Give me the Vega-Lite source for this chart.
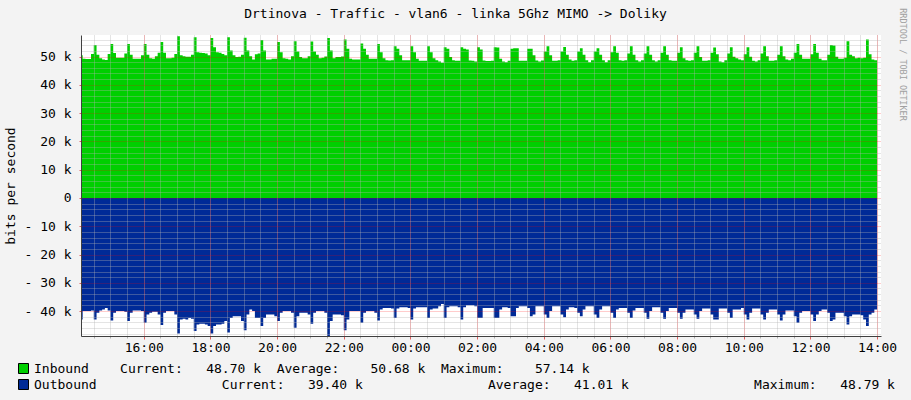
{
"$schema": "https://vega.github.io/schema/vega-lite/v6.json",
"width": 800, "height": 301,
"autosize": {"type": "none"},
"padding": {"left": 81, "top": 35, "right": 30, "bottom": 64},
"background": "#f3f3f3",
"config": {"view": {"fill": "#ffffff", "stroke": null}, "font": "DejaVu Sans Mono"},
"title": {"text": "Drtinova - Traffic - vlan6 - linka 5Ghz MIMO -> Doliky", "font": "DejaVu Sans Mono", "fontSize": 13, "fontWeight": "normal", "color": "#000000", "anchor": "middle", "frame": "group", "dx": -25.5, "offset": -13},
"data": {"values": [
{"t":"2024-01-01T14:05","in":50.4,"out":-43.0},
{"t":"2024-01-01T14:10","in":50.4,"out":-43.0},
{"t":"2024-01-01T14:15","in":49.2,"out":-40.0},
{"t":"2024-01-01T14:20","in":49.1,"out":-40.0},
{"t":"2024-01-01T14:25","in":49.1,"out":-40.0},
{"t":"2024-01-01T14:30","in":50.9,"out":-39.8},
{"t":"2024-01-01T14:35","in":54.1,"out":-43.0},
{"t":"2024-01-01T14:40","in":50.6,"out":-40.6},
{"t":"2024-01-01T14:45","in":49.4,"out":-39.8},
{"t":"2024-01-01T14:50","in":48.9,"out":-39.4},
{"t":"2024-01-01T14:55","in":48.8,"out":-38.9},
{"t":"2024-01-01T15:00","in":50.9,"out":-39.8},
{"t":"2024-01-01T15:05","in":54.4,"out":-43.3},
{"t":"2024-01-01T15:10","in":51.2,"out":-40.6},
{"t":"2024-01-01T15:15","in":49.6,"out":-40.0},
{"t":"2024-01-01T15:20","in":49.6,"out":-40.0},
{"t":"2024-01-01T15:25","in":49.6,"out":-40.0},
{"t":"2024-01-01T15:30","in":51.1,"out":-40.2},
{"t":"2024-01-01T15:35","in":54.4,"out":-43.5},
{"t":"2024-01-01T15:40","in":50.6,"out":-40.6},
{"t":"2024-01-01T15:45","in":49.2,"out":-39.8},
{"t":"2024-01-01T15:50","in":49.2,"out":-39.8},
{"t":"2024-01-01T15:55","in":49.2,"out":-39.8},
{"t":"2024-01-01T16:00","in":50.4,"out":-40.0},
{"t":"2024-01-01T16:05","in":54.4,"out":-44.1},
{"t":"2024-01-01T16:10","in":50.6,"out":-41.2},
{"t":"2024-01-01T16:15","in":49.4,"out":-40.6},
{"t":"2024-01-01T16:20","in":49.2,"out":-40.2},
{"t":"2024-01-01T16:25","in":50.1,"out":-40.2},
{"t":"2024-01-01T16:30","in":51.3,"out":-41.2},
{"t":"2024-01-01T16:35","in":55.1,"out":-44.9},
{"t":"2024-01-01T16:40","in":51.3,"out":-40.6},
{"t":"2024-01-01T16:45","in":49.4,"out":-40.0},
{"t":"2024-01-01T16:50","in":49.4,"out":-40.0},
{"t":"2024-01-01T16:55","in":49.6,"out":-40.0},
{"t":"2024-01-01T17:00","in":50.9,"out":-41.2},
{"t":"2024-01-01T17:05","in":57.14,"out":-47.9},
{"t":"2024-01-01T17:10","in":50.4,"out":-43.0},
{"t":"2024-01-01T17:15","in":50.1,"out":-42.7},
{"t":"2024-01-01T17:20","in":49.9,"out":-43.0},
{"t":"2024-01-01T17:25","in":49.9,"out":-42.4},
{"t":"2024-01-01T17:30","in":50.6,"out":-42.7},
{"t":"2024-01-01T17:35","in":56.8,"out":-47.0},
{"t":"2024-01-01T17:40","in":51.5,"out":-44.7},
{"t":"2024-01-01T17:45","in":51.3,"out":-44.5},
{"t":"2024-01-01T17:50","in":51.2,"out":-44.5},
{"t":"2024-01-01T17:55","in":51.1,"out":-44.7},
{"t":"2024-01-01T18:00","in":50.4,"out":-45.3},
{"t":"2024-01-01T18:05","in":56.5,"out":-47.9},
{"t":"2024-01-01T18:10","in":53.3,"out":-45.3},
{"t":"2024-01-01T18:15","in":51.5,"out":-44.7},
{"t":"2024-01-01T18:20","in":51.3,"out":-44.7},
{"t":"2024-01-01T18:25","in":50.9,"out":-44.5},
{"t":"2024-01-01T18:30","in":50.4,"out":-43.5},
{"t":"2024-01-01T18:35","in":56.8,"out":-47.6},
{"t":"2024-01-01T18:40","in":52.1,"out":-42.4},
{"t":"2024-01-01T18:45","in":50.4,"out":-41.8},
{"t":"2024-01-01T18:50","in":49.8,"out":-41.8},
{"t":"2024-01-01T18:55","in":49.9,"out":-41.8},
{"t":"2024-01-01T19:00","in":50.6,"out":-43.5},
{"t":"2024-01-01T19:05","in":56.6,"out":-46.8},
{"t":"2024-01-01T19:10","in":52.1,"out":-41.2},
{"t":"2024-01-01T19:15","in":50.1,"out":-39.4},
{"t":"2024-01-01T19:20","in":48.9,"out":-40.0},
{"t":"2024-01-01T19:25","in":50.8,"out":-42.4},
{"t":"2024-01-01T19:30","in":51.1,"out":-42.4},
{"t":"2024-01-01T19:35","in":55.8,"out":-45.3},
{"t":"2024-01-01T19:40","in":52.1,"out":-42.4},
{"t":"2024-01-01T19:45","in":48.9,"out":-41.2},
{"t":"2024-01-01T19:50","in":48.9,"out":-41.2},
{"t":"2024-01-01T19:55","in":49.2,"out":-41.2},
{"t":"2024-01-01T20:00","in":49.2,"out":-41.8},
{"t":"2024-01-01T20:05","in":55.1,"out":-43.5},
{"t":"2024-01-01T20:10","in":51.5,"out":-40.6},
{"t":"2024-01-01T20:15","in":49.4,"out":-40.0},
{"t":"2024-01-01T20:20","in":49.2,"out":-40.0},
{"t":"2024-01-01T20:25","in":48.9,"out":-40.0},
{"t":"2024-01-01T20:30","in":50.1,"out":-40.6},
{"t":"2024-01-01T20:35","in":55.4,"out":-45.9},
{"t":"2024-01-01T20:40","in":51.8,"out":-41.8},
{"t":"2024-01-01T20:45","in":49.8,"out":-40.6},
{"t":"2024-01-01T20:50","in":49.4,"out":-40.6},
{"t":"2024-01-01T20:55","in":49.4,"out":-40.6},
{"t":"2024-01-01T21:00","in":50.1,"out":-41.2},
{"t":"2024-01-01T21:05","in":55.3,"out":-44.5},
{"t":"2024-01-01T21:10","in":51.8,"out":-40.6},
{"t":"2024-01-01T21:15","in":50.6,"out":-40.0},
{"t":"2024-01-01T21:20","in":49.4,"out":-40.0},
{"t":"2024-01-01T21:25","in":49.6,"out":-40.0},
{"t":"2024-01-01T21:30","in":50.0,"out":-40.6},
{"t":"2024-01-01T21:35","in":56.5,"out":-48.79},
{"t":"2024-01-01T21:40","in":52.1,"out":-43.5},
{"t":"2024-01-01T21:45","in":49.4,"out":-41.2},
{"t":"2024-01-01T21:50","in":49.8,"out":-41.2},
{"t":"2024-01-01T21:55","in":49.8,"out":-41.2},
{"t":"2024-01-01T22:00","in":50.0,"out":-41.5},
{"t":"2024-01-01T22:05","in":56.0,"out":-46.8},
{"t":"2024-01-01T22:10","in":52.7,"out":-43.0},
{"t":"2024-01-01T22:15","in":49.2,"out":-40.0},
{"t":"2024-01-01T22:20","in":48.9,"out":-40.0},
{"t":"2024-01-01T22:25","in":48.9,"out":-40.0},
{"t":"2024-01-01T22:30","in":48.9,"out":-40.0},
{"t":"2024-01-01T22:35","in":54.6,"out":-44.1},
{"t":"2024-01-01T22:40","in":52.7,"out":-40.6},
{"t":"2024-01-01T22:45","in":50.6,"out":-40.0},
{"t":"2024-01-01T22:50","in":49.2,"out":-40.0},
{"t":"2024-01-01T22:55","in":49.2,"out":-40.0},
{"t":"2024-01-01T23:00","in":49.2,"out":-40.6},
{"t":"2024-01-01T23:05","in":54.4,"out":-43.3},
{"t":"2024-01-01T23:10","in":51.5,"out":-39.4},
{"t":"2024-01-01T23:15","in":49.4,"out":-38.9},
{"t":"2024-01-01T23:20","in":48.7,"out":-38.9},
{"t":"2024-01-01T23:25","in":48.6,"out":-38.9},
{"t":"2024-01-01T23:30","in":48.7,"out":-39.1},
{"t":"2024-01-01T23:35","in":53.6,"out":-42.4},
{"t":"2024-01-01T23:40","in":52.7,"out":-39.1},
{"t":"2024-01-01T23:45","in":50.4,"out":-38.6},
{"t":"2024-01-01T23:50","in":48.7,"out":-38.6},
{"t":"2024-01-01T23:55","in":48.7,"out":-38.6},
{"t":"2024-01-02T00:00","in":48.7,"out":-38.9},
{"t":"2024-01-02T00:05","in":53.6,"out":-43.0},
{"t":"2024-01-02T00:10","in":51.5,"out":-39.1},
{"t":"2024-01-02T00:15","in":49.2,"out":-38.6},
{"t":"2024-01-02T00:20","in":48.5,"out":-38.6},
{"t":"2024-01-02T00:25","in":48.5,"out":-38.6},
{"t":"2024-01-02T00:30","in":48.5,"out":-38.6},
{"t":"2024-01-02T00:35","in":53.6,"out":-42.4},
{"t":"2024-01-02T00:40","in":51.5,"out":-39.4},
{"t":"2024-01-02T00:45","in":49.4,"out":-39.1},
{"t":"2024-01-02T00:50","in":48.7,"out":-39.1},
{"t":"2024-01-02T00:55","in":48.2,"out":-38.3},
{"t":"2024-01-02T01:00","in":47.8,"out":-37.5},
{"t":"2024-01-02T01:05","in":53.3,"out":-42.4},
{"t":"2024-01-02T01:10","in":52.7,"out":-38.6},
{"t":"2024-01-02T01:15","in":49.8,"out":-38.3},
{"t":"2024-01-02T01:20","in":48.7,"out":-38.3},
{"t":"2024-01-02T01:25","in":48.5,"out":-38.3},
{"t":"2024-01-02T01:30","in":48.5,"out":-38.6},
{"t":"2024-01-02T01:35","in":53.3,"out":-43.0},
{"t":"2024-01-02T01:40","in":52.7,"out":-38.6},
{"t":"2024-01-02T01:45","in":52.5,"out":-37.9},
{"t":"2024-01-02T01:50","in":48.6,"out":-37.9},
{"t":"2024-01-02T01:55","in":48.5,"out":-37.9},
{"t":"2024-01-02T02:00","in":48.2,"out":-38.3},
{"t":"2024-01-02T02:05","in":53.3,"out":-42.4},
{"t":"2024-01-02T02:10","in":52.5,"out":-42.4},
{"t":"2024-01-02T02:15","in":48.6,"out":-38.9},
{"t":"2024-01-02T02:20","in":48.4,"out":-38.9},
{"t":"2024-01-02T02:25","in":48.4,"out":-38.9},
{"t":"2024-01-02T02:30","in":48.5,"out":-38.9},
{"t":"2024-01-02T02:35","in":53.3,"out":-42.4},
{"t":"2024-01-02T02:40","in":53.2,"out":-42.4},
{"t":"2024-01-02T02:45","in":49.2,"out":-39.4},
{"t":"2024-01-02T02:50","in":48.2,"out":-38.6},
{"t":"2024-01-02T02:55","in":48.0,"out":-38.6},
{"t":"2024-01-02T03:00","in":48.5,"out":-38.9},
{"t":"2024-01-02T03:05","in":52.7,"out":-41.8},
{"t":"2024-01-02T03:10","in":52.9,"out":-41.8},
{"t":"2024-01-02T03:15","in":52.9,"out":-38.9},
{"t":"2024-01-02T03:20","in":48.5,"out":-38.3},
{"t":"2024-01-02T03:25","in":48.5,"out":-38.3},
{"t":"2024-01-02T03:30","in":48.5,"out":-38.3},
{"t":"2024-01-02T03:35","in":52.7,"out":-38.9},
{"t":"2024-01-02T03:40","in":52.7,"out":-41.8},
{"t":"2024-01-02T03:45","in":50.4,"out":-41.2},
{"t":"2024-01-02T03:50","in":48.6,"out":-38.3},
{"t":"2024-01-02T03:55","in":48.2,"out":-38.3},
{"t":"2024-01-02T04:00","in":48.6,"out":-38.3},
{"t":"2024-01-02T04:05","in":51.8,"out":-41.2},
{"t":"2024-01-02T04:10","in":53.6,"out":-42.4},
{"t":"2024-01-02T04:15","in":50.4,"out":-40.0},
{"t":"2024-01-02T04:20","in":48.5,"out":-38.3},
{"t":"2024-01-02T04:25","in":48.5,"out":-38.3},
{"t":"2024-01-02T04:30","in":48.7,"out":-38.3},
{"t":"2024-01-02T04:35","in":51.8,"out":-41.2},
{"t":"2024-01-02T04:40","in":53.4,"out":-42.2},
{"t":"2024-01-02T04:45","in":50.6,"out":-39.4},
{"t":"2024-01-02T04:50","in":48.9,"out":-38.6},
{"t":"2024-01-02T04:55","in":48.5,"out":-38.6},
{"t":"2024-01-02T05:00","in":48.7,"out":-38.9},
{"t":"2024-01-02T05:05","in":51.8,"out":-40.6},
{"t":"2024-01-02T05:10","in":52.9,"out":-41.8},
{"t":"2024-01-02T05:15","in":50.6,"out":-39.4},
{"t":"2024-01-02T05:20","in":48.7,"out":-38.3},
{"t":"2024-01-02T05:25","in":48.0,"out":-38.3},
{"t":"2024-01-02T05:30","in":48.7,"out":-38.3},
{"t":"2024-01-02T05:35","in":51.8,"out":-41.2},
{"t":"2024-01-02T05:40","in":52.9,"out":-42.4},
{"t":"2024-01-02T05:45","in":50.6,"out":-39.4},
{"t":"2024-01-02T05:50","in":48.7,"out":-38.3},
{"t":"2024-01-02T05:55","in":48.0,"out":-38.3},
{"t":"2024-01-02T06:00","in":48.7,"out":-38.3},
{"t":"2024-01-02T06:05","in":51.5,"out":-40.6},
{"t":"2024-01-02T06:10","in":53.6,"out":-42.4},
{"t":"2024-01-02T06:15","in":51.3,"out":-39.4},
{"t":"2024-01-02T06:20","in":48.7,"out":-38.9},
{"t":"2024-01-02T06:25","in":48.5,"out":-38.9},
{"t":"2024-01-02T06:30","in":48.7,"out":-38.9},
{"t":"2024-01-02T06:35","in":51.1,"out":-40.6},
{"t":"2024-01-02T06:40","in":53.6,"out":-42.4},
{"t":"2024-01-02T06:45","in":50.6,"out":-39.8},
{"t":"2024-01-02T06:50","in":48.7,"out":-38.9},
{"t":"2024-01-02T06:55","in":48.2,"out":-38.9},
{"t":"2024-01-02T07:00","in":48.7,"out":-38.9},
{"t":"2024-01-02T07:05","in":51.1,"out":-40.6},
{"t":"2024-01-02T07:10","in":53.6,"out":-42.7},
{"t":"2024-01-02T07:15","in":50.6,"out":-40.0},
{"t":"2024-01-02T07:20","in":48.7,"out":-38.6},
{"t":"2024-01-02T07:25","in":48.2,"out":-38.6},
{"t":"2024-01-02T07:30","in":48.7,"out":-38.6},
{"t":"2024-01-02T07:35","in":51.3,"out":-40.6},
{"t":"2024-01-02T07:40","in":53.6,"out":-42.7},
{"t":"2024-01-02T07:45","in":50.6,"out":-40.0},
{"t":"2024-01-02T07:50","in":48.7,"out":-38.9},
{"t":"2024-01-02T07:55","in":48.5,"out":-38.9},
{"t":"2024-01-02T08:00","in":48.5,"out":-38.9},
{"t":"2024-01-02T08:05","in":51.3,"out":-40.6},
{"t":"2024-01-02T08:10","in":53.3,"out":-42.7},
{"t":"2024-01-02T08:15","in":49.4,"out":-40.6},
{"t":"2024-01-02T08:20","in":48.7,"out":-39.4},
{"t":"2024-01-02T08:25","in":48.5,"out":-39.4},
{"t":"2024-01-02T08:30","in":48.7,"out":-39.4},
{"t":"2024-01-02T08:35","in":51.3,"out":-41.2},
{"t":"2024-01-02T08:40","in":53.6,"out":-42.7},
{"t":"2024-01-02T08:45","in":49.8,"out":-40.0},
{"t":"2024-01-02T08:50","in":48.5,"out":-39.1},
{"t":"2024-01-02T08:55","in":48.5,"out":-39.1},
{"t":"2024-01-02T09:00","in":48.7,"out":-39.1},
{"t":"2024-01-02T09:05","in":51.3,"out":-41.2},
{"t":"2024-01-02T09:10","in":53.2,"out":-43.0},
{"t":"2024-01-02T09:15","in":50.8,"out":-43.0},
{"t":"2024-01-02T09:20","in":48.2,"out":-39.1},
{"t":"2024-01-02T09:25","in":48.0,"out":-39.1},
{"t":"2024-01-02T09:30","in":48.7,"out":-39.1},
{"t":"2024-01-02T09:35","in":51.1,"out":-40.6},
{"t":"2024-01-02T09:40","in":53.3,"out":-42.4},
{"t":"2024-01-02T09:45","in":49.9,"out":-39.4},
{"t":"2024-01-02T09:50","in":49.4,"out":-39.4},
{"t":"2024-01-02T09:55","in":48.9,"out":-39.4},
{"t":"2024-01-02T10:00","in":48.7,"out":-38.9},
{"t":"2024-01-02T10:05","in":50.8,"out":-41.2},
{"t":"2024-01-02T10:10","in":53.3,"out":-43.0},
{"t":"2024-01-02T10:15","in":49.9,"out":-40.6},
{"t":"2024-01-02T10:20","in":48.5,"out":-39.1},
{"t":"2024-01-02T10:25","in":48.2,"out":-39.1},
{"t":"2024-01-02T10:30","in":48.7,"out":-39.1},
{"t":"2024-01-02T10:35","in":51.1,"out":-41.2},
{"t":"2024-01-02T10:40","in":53.6,"out":-43.0},
{"t":"2024-01-02T10:45","in":50.1,"out":-40.6},
{"t":"2024-01-02T10:50","in":48.5,"out":-39.4},
{"t":"2024-01-02T10:55","in":48.5,"out":-39.4},
{"t":"2024-01-02T11:00","in":48.7,"out":-39.4},
{"t":"2024-01-02T11:05","in":50.6,"out":-41.2},
{"t":"2024-01-02T11:10","in":53.6,"out":-43.3},
{"t":"2024-01-02T11:15","in":50.1,"out":-41.2},
{"t":"2024-01-02T11:20","in":48.9,"out":-39.8},
{"t":"2024-01-02T11:25","in":48.7,"out":-39.8},
{"t":"2024-01-02T11:30","in":49.2,"out":-39.8},
{"t":"2024-01-02T11:35","in":51.3,"out":-41.8},
{"t":"2024-01-02T11:40","in":54.4,"out":-44.1},
{"t":"2024-01-02T11:45","in":50.6,"out":-40.6},
{"t":"2024-01-02T11:50","in":49.2,"out":-40.0},
{"t":"2024-01-02T11:55","in":49.2,"out":-40.0},
{"t":"2024-01-02T12:00","in":49.2,"out":-40.0},
{"t":"2024-01-02T12:05","in":50.8,"out":-41.2},
{"t":"2024-01-02T12:10","in":54.4,"out":-43.5},
{"t":"2024-01-02T12:15","in":51.3,"out":-41.2},
{"t":"2024-01-02T12:20","in":49.2,"out":-40.0},
{"t":"2024-01-02T12:25","in":48.7,"out":-39.4},
{"t":"2024-01-02T12:30","in":48.7,"out":-39.4},
{"t":"2024-01-02T12:35","in":50.6,"out":-40.6},
{"t":"2024-01-02T12:40","in":54.1,"out":-43.5},
{"t":"2024-01-02T12:45","in":53.9,"out":-43.0},
{"t":"2024-01-02T12:50","in":49.9,"out":-40.6},
{"t":"2024-01-02T12:55","in":49.2,"out":-40.6},
{"t":"2024-01-02T13:00","in":49.2,"out":-40.6},
{"t":"2024-01-02T13:05","in":49.6,"out":-41.8},
{"t":"2024-01-02T13:10","in":55.4,"out":-44.7},
{"t":"2024-01-02T13:15","in":50.6,"out":-41.8},
{"t":"2024-01-02T13:20","in":50.1,"out":-41.2},
{"t":"2024-01-02T13:25","in":49.4,"out":-41.2},
{"t":"2024-01-02T13:30","in":49.6,"out":-41.2},
{"t":"2024-01-02T13:35","in":49.4,"out":-41.5},
{"t":"2024-01-02T13:40","in":49.6,"out":-43.0},
{"t":"2024-01-02T13:45","in":56.0,"out":-45.3},
{"t":"2024-01-02T13:50","in":50.8,"out":-41.2},
{"t":"2024-01-02T13:55","in":48.9,"out":-40.6},
{"t":"2024-01-02T14:00","in":48.7,"out":-39.4}
]},
"transform": [{"fold": ["in", "out"], "as": ["dir", "v"]}],
"layer": [
 {
  "mark": {"type": "point", "opacity": 0},
  "encoding": {
   "x": {"field": "t", "type": "temporal",
     "scale": {"domain": [{"year": 2024, "month": 1, "date": 1, "hours": 14, "minutes": 7}, {"year": 2024, "month": 1, "date": 2, "hours": 14, "minutes": 7}]},
     "axis": {"orient": "bottom", "tickCount": 48, "labels": false, "ticks": true, "tickColor": "#b0b0b0", "tickSize": 2, "domain": false, "grid": true, "gridColor": "#b0b0b0", "gridOpacity": 0.7, "gridDash": [1, 1], "title": null, "zindex": 1}},
   "y": {"field": "v", "type": "quantitative",
     "scale": {"domain": [-48.8, 57.6], "nice": false, "zero": false},
     "axis": {"orient": "left", "values": [-48, -46, -44, -42, -38, -36, -34, -32, -28, -26, -24, -22, -18, -16, -14, -12, -8, -6, -4, -2, 2, 4, 6, 8, 12, 14, 16, 18, 22, 24, 26, 28, 32, 34, 36, 38, 42, 44, 46, 48, 52, 54, 56], "labels": false, "ticks": false, "domain": false, "grid": true, "gridColor": "#b0b0b0", "gridOpacity": 0.7, "gridDash": [1, 1], "title": null, "zindex": 1}}
  }
 },
 {
  "mark": {"type": "area", "interpolate": "step-before", "clip": true},
  "encoding": {
   "x": {"field": "t", "type": "temporal",
     "scale": {"domain": [{"year": 2024, "month": 1, "date": 1, "hours": 14, "minutes": 7}, {"year": 2024, "month": 1, "date": 2, "hours": 14, "minutes": 7}]},
     "axis": {"orient": "bottom",
       "values": [{"year": 2024, "month": 1, "date": 1, "hours": 16}, {"year": 2024, "month": 1, "date": 1, "hours": 18}, {"year": 2024, "month": 1, "date": 1, "hours": 20}, {"year": 2024, "month": 1, "date": 1, "hours": 22}, {"year": 2024, "month": 1, "date": 2, "hours": 0}, {"year": 2024, "month": 1, "date": 2, "hours": 2}, {"year": 2024, "month": 1, "date": 2, "hours": 4}, {"year": 2024, "month": 1, "date": 2, "hours": 6}, {"year": 2024, "month": 1, "date": 2, "hours": 8}, {"year": 2024, "month": 1, "date": 2, "hours": 10}, {"year": 2024, "month": 1, "date": 2, "hours": 12}, {"year": 2024, "month": 1, "date": 2, "hours": 14}],
       "format": "%H:%M", "labelFont": "DejaVu Sans Mono", "labelFontSize": 13, "labelColor": "#000000", "labelPadding": 2, "labelFlush": false, "labelOverlap": false, "ticks": true, "tickColor": "#e06060", "tickSize": 3, "domain": true, "domainColor": "#404040", "grid": true, "gridColor": "#ff0000", "gridOpacity": 0.4, "gridDash": [1, 1], "title": null, "zindex": 1}},
   "y": {"field": "v", "type": "quantitative", "stack": null,
     "scale": {"domain": [-48.8, 57.6], "nice": false, "zero": false},
     "axis": {"orient": "left", "values": [-40, -30, -20, -10, 0, 10, 20, 30, 40, 50],
       "labelExpr": "datum.value == 0 ? '0' : (datum.value < 0 ? '- ' + (-datum.value) + ' k' : datum.value + ' k')",
       "labelFont": "DejaVu Sans Mono", "labelFontSize": 13, "labelColor": "#000000", "labelPadding": 8, "labelBaseline": "middle",
       "ticks": true, "tickColor": "#e06060", "tickSize": 2, "domain": true, "domainColor": "#404040",
       "grid": true, "gridColor": "#ff0000", "gridOpacity": 0.4, "gridDash": [1, 1],
       "title": "bits per second", "titleFont": "DejaVu Sans Mono", "titleFontSize": 13, "titleFontWeight": "normal", "titleColor": "#000000",
       "titleAngle": -90, "titleX": -71, "titleY": 150.5, "titleAlign": "center", "titleBaseline": "middle", "zindex": 1}},
   "color": {"field": "dir", "type": "nominal",
     "scale": {"domain": ["in", "out"], "range": ["#00CF00", "#002A97"]},
     "legend": {"orient": "none", "legendX": -64, "legendY": 327, "direction": "vertical", "title": null,
       "symbolType": "square", "symbolSize": 100, "symbolStrokeColor": "#000000", "symbolStrokeWidth": 1, "symbolOpacity": 1,
       "labelFont": "DejaVu Sans Mono", "labelFontSize": 13, "labelColor": "#000000", "labelLimit": 1000, "labelOffset": 4, "rowPadding": 1, "padding": 0,
       "labelExpr": "datum.label == 'in' ? 'Inbound\u00a0\u00a0\u00a0\u00a0Current:\u00a0\u00a0\u00a048.70\u00a0k\u00a0\u00a0Average:\u00a0\u00a0\u00a0\u00a050.68\u00a0k\u00a0\u00a0Maximum:\u00a0\u00a0\u00a0\u00a057.14\u00a0k' : 'Outbound\u00a0\u00a0\u00a0\u00a0\u00a0\u00a0\u00a0\u00a0\u00a0\u00a0\u00a0\u00a0\u00a0\u00a0\u00a0\u00a0Current:\u00a0\u00a0\u00a039.40\u00a0k\u00a0\u00a0\u00a0\u00a0\u00a0\u00a0\u00a0\u00a0\u00a0\u00a0\u00a0\u00a0\u00a0\u00a0\u00a0\u00a0Average:\u00a0\u00a0\u00a041.01\u00a0k\u00a0\u00a0\u00a0\u00a0\u00a0\u00a0\u00a0\u00a0\u00a0\u00a0\u00a0\u00a0\u00a0\u00a0\u00a0\u00a0Maximum:\u00a0\u00a0\u00a048.79\u00a0k'"}}
  }
 },
 {
  "mark": {"type": "point", "opacity": 0},
  "encoding": {
   "x": {"field": "t", "type": "temporal",
     "scale": {"domain": [{"year": 2024, "month": 1, "date": 1, "hours": 14, "minutes": 7}, {"year": 2024, "month": 1, "date": 2, "hours": 14, "minutes": 7}]},
     "axis": null},
   "y": {"field": "v", "type": "quantitative",
     "scale": {"domain": [-48.8, 57.6], "nice": false, "zero": false},
     "axis": {"orient": "right", "labels": false, "ticks": false, "domain": false, "grid": false,
       "title": "RRDTOOL / TOBI OETIKER", "titleFont": "DejaVu Sans Mono", "titleFontSize": 8.5, "titleFontWeight": "normal", "titleColor": "#a0a0a0",
       "titleAngle": 90, "titleX": 21, "titleY": 29, "titleAlign": "center", "titleBaseline": "middle"}}
  }
 }
],
"resolve": {"scale": {"x": "independent", "y": "independent"}, "axis": {"x": "independent", "y": "independent"}}
}
